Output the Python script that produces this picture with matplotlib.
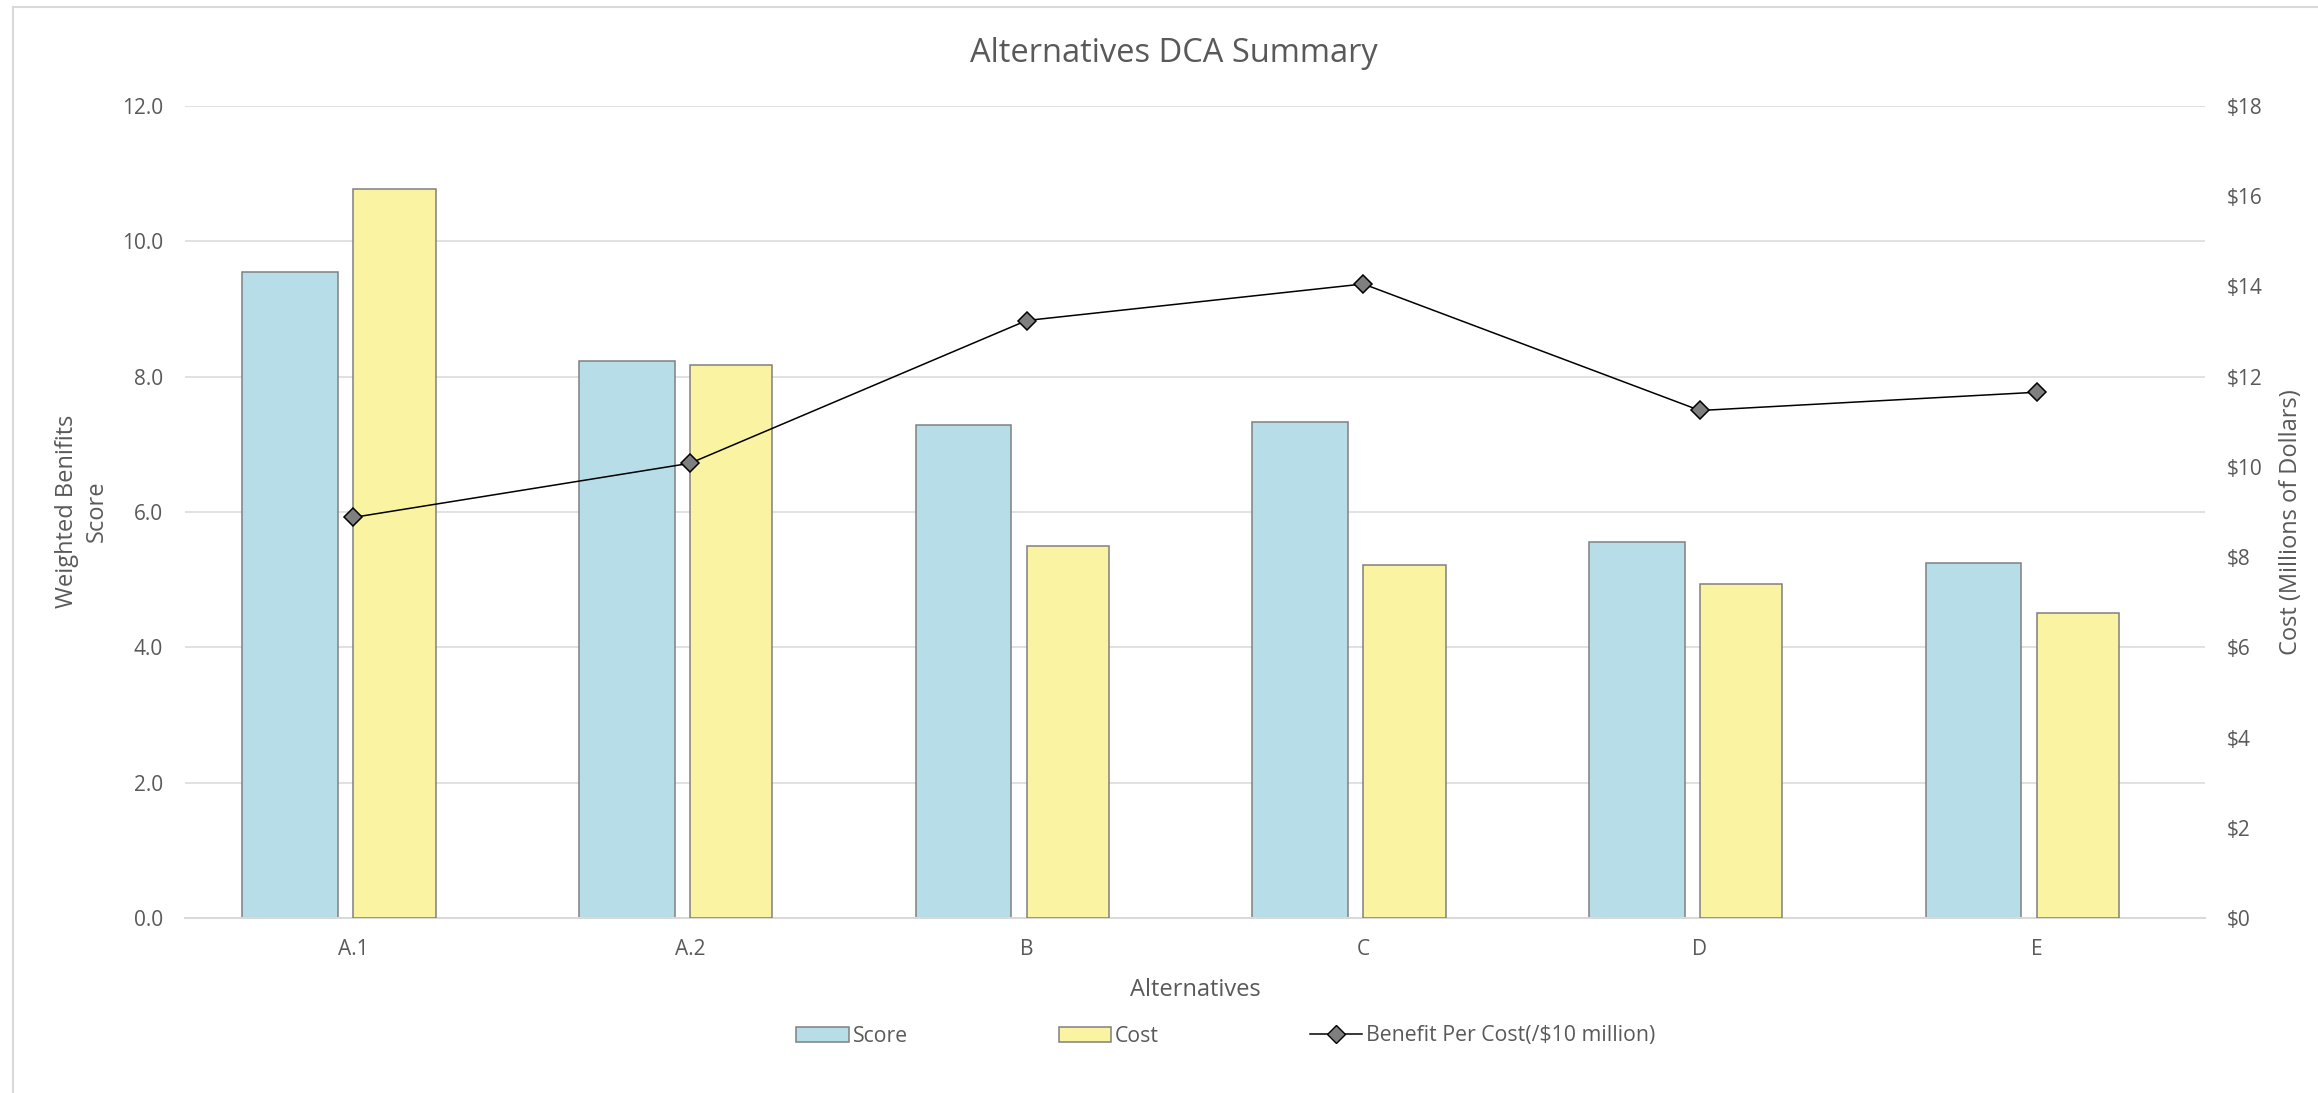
import numpy as np
import matplotlib
matplotlib.use("Agg")
import matplotlib.pyplot as plt
from matplotlib.lines import Line2D
from matplotlib.patches import Patch

# Donnees
categories = ["A.1", "A.2", "B", "C", "D", "E"]
score = [9.55, 8.23, 7.29, 7.33, 5.55, 5.24]
cost = [16.16, 12.26, 8.25, 7.83, 7.41, 6.75]          # millions de dollars
benefit_per_cost = [5.92, 6.72, 8.83, 9.37, 7.50, 7.77]  # score par 10 M$

left_ticks = [0, 2, 4, 6, 8, 10, 12]
right_ticks = [0, 2, 4, 6, 8, 10, 12, 14, 16, 18]

txt = "#595959"
grid = "#d9d9d9"
plt.rcParams["font.family"] = ["Open Sans", "DejaVu Sans"]

W, H = 2318, 1093
fig = plt.figure(figsize=(W / 100, H / 100), dpi=100)
ax = fig.add_axes([185 / W, 1 - 918 / H, (2205 - 185) / W, (918 - 106) / H])
ax2 = ax.twinx()

x = np.arange(len(categories))

# barres score (axe gauche) a gauche du centre, cout (axe droit) a droite
ax.bar(x - 0.046 - 0.284, score, width=0.284, align="edge",
       color="#b7dde8", edgecolor="#808080", linewidth=1.1, zorder=2)
ax2.bar(x, cost, width=0.245, align="edge",
        color="#faf3a2", edgecolor="#808080", linewidth=1.1, zorder=2)

# ligne benefice par cout (echelle de gauche, dessinee au-dessus des barres)
ax2.plot(x, benefit_per_cost, transform=ax.transData, color="black",
         linewidth=1.1, marker="D", markersize=9, markerfacecolor="#7f7f7f",
         markeredgecolor="black", markeredgewidth=1.1, zorder=5, clip_on=False)

ax.set_xlim(-0.5, len(categories) - 0.5)
ax.set_ylim(0, 12)
ax2.set_ylim(0, 18)
ax.set_yticks(left_ticks)
ax.set_yticklabels([f"{v:.1f}" for v in left_ticks])
ax2.set_yticks(right_ticks)
ax2.set_yticklabels([f"${v}" for v in right_ticks])
ax.set_xticks(x)
ax.set_xticklabels(categories)

ax.grid(axis="y", color=grid, linewidth=1.1)
ax.set_axisbelow(True)
for a in (ax, ax2):
    for s in a.spines.values():
        s.set_visible(False)
ax.spines["bottom"].set_visible(True)
ax.spines["bottom"].set_color(grid)
ax.spines["bottom"].set_linewidth(1.5)

ax.tick_params(axis="y", length=0, pad=16, labelsize=15, labelcolor=txt)
ax2.tick_params(axis="y", length=0, pad=16, labelsize=15, labelcolor=txt)
ax.tick_params(axis="x", length=0, pad=15, labelsize=15, labelcolor=txt)

fig.text(1173.5 / W, 1 - 54 / H, "Alternatives DCA Summary", ha="center",
         va="center", fontsize=23.5, color=txt)
fig.text(1195 / W, 1 - 990 / H, "Alternatives", ha="center", va="center",
         fontsize=17, color=txt)
fig.text(82 / W, 1 - 511 / H, "Weighted Benifits\nScore", ha="center",
         va="center", rotation=90, fontsize=17, color=txt, linespacing=1.3)
fig.text(2291 / W, 1 - 522 / H, "Cost (Millions of Dollars)", ha="center",
         va="center", rotation=90, fontsize=17, color=txt)

handles = [
    Patch(facecolor="#b7dde8", edgecolor="#808080", linewidth=1.1, label="Score"),
    Patch(facecolor="#faf3a2", edgecolor="#808080", linewidth=1.1, label="Cost"),
    Line2D([], [], color="black", linewidth=1.1, marker="D", markersize=9,
           markerfacecolor="#7f7f7f", markeredgecolor="black",
           label="Benefit Per Cost(/$10 million)"),
]
fig.legend(handles=handles, loc="center", ncol=3,
           bbox_to_anchor=(1226 / W, 1 - 1036 / H), frameon=False,
           fontsize=15.3, handlelength=2.45, handletextpad=0.2,
           columnspacing=7.1, labelcolor=txt)

# bordure de la zone du graphique (haut et gauche)
fig.add_artist(Line2D([13 / W, 13 / W], [0, 1 - 7 / H], color=grid,
                      linewidth=1.5, transform=fig.transFigure))
fig.add_artist(Line2D([13 / W, 1], [1 - 7 / H, 1 - 7 / H], color=grid,
                      linewidth=1.5, transform=fig.transFigure))

fig.savefig("out.png", dpi=100, facecolor="white")
